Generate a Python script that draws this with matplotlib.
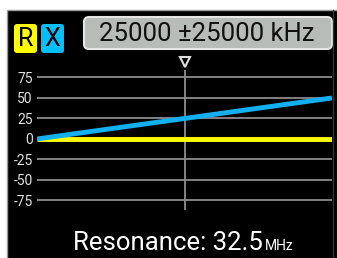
import matplotlib
matplotlib.use('Agg')
import matplotlib.pyplot as plt
from matplotlib.patches import FancyBboxPatch, Rectangle

plt.rcParams['font.family'] = ['Roboto', 'DejaVu Sans']

freq_khz = [0, 12500, 25000, 37500, 50000]
r_vals = [0, 0, 0, 0, 0]
x_vals = [0, 12.5, 25, 37.5, 50]
yticks = [75, 50, 25, 0, -25, -50, -75]
center_khz = 25000
span_khz = 25000
resonance_mhz = 32.5

W, H = 337, 258
fig = plt.figure(figsize=(W / 100, H / 100), dpi=100)
fig.patch.set_facecolor('white')

# background / decoration axes in pixel coordinates
bg = fig.add_axes([0, 0, 1, 1])
bg.set_xlim(0, W)
bg.set_ylim(H, 0)
bg.axis('off')
bg.add_patch(Rectangle((6.5, 10), W, H, facecolor='black', edgecolor='#9a9a9a', linewidth=1))
bg.plot([333, 333], [10, H], color='#333333', linewidth=1)

# R / X tags
bg.add_patch(FancyBboxPatch((14, 24), 23, 29, boxstyle='round,pad=0,rounding_size=3',
                            facecolor='#ffff00', edgecolor='none'))
bg.text(25.5, 39.5, 'R', fontsize=18, color='black', ha='center', va='center')
bg.add_patch(FancyBboxPatch((41, 24), 23, 29, boxstyle='round,pad=0,rounding_size=3',
                            facecolor='#00bfff', edgecolor='none'))
bg.text(52.5, 39.5, 'X', fontsize=18, color='black', ha='center', va='center')

# frequency box
bg.add_patch(FancyBboxPatch((84, 17), 248, 32, boxstyle='round,pad=0,rounding_size=5',
                            facecolor='#b8bcb8', edgecolor='#e6e6e6', linewidth=1.5))
bg.text(207, 34, f'{center_khz} \u00b1{span_khz} kHz', fontsize=18.5, color='#111111',
        ha='center', va='center')

# resonance readout
bg.text(263, 250, f'Resonance: {resonance_mhz}', fontsize=18.5, color='white',
        ha='right', va='baseline')
bg.text(265, 250, 'MHz', fontsize=10, color='white', ha='left', va='baseline')

# plot axes
x0, x1, y0, y1 = 37, 332, 70, 210
ax = fig.add_axes([x0 / W, 1 - y1 / H, (x1 - x0) / W, (y1 - y0) / H])
ax.set_facecolor('none')
ax.set_xlim(0, 2 * span_khz)
ax.set_ylim(-86.6, 84.1)
for s in ax.spines.values():
    s.set_visible(False)
ax.set_xticks([])
ax.set_yticks(yticks)
ax.set_yticklabels([str(t) for t in yticks], color='#e0e0e0', fontsize=10)
ax.tick_params(axis='y', length=0, pad=3)
for t in yticks:
    ax.axhline(t, color='#8c8c8c', linewidth=1.3, zorder=1)
ax.axvline(center_khz, color='#8c8c8c', linewidth=1.3, zorder=1)

ax.plot(freq_khz, r_vals, color='#ffff00', linewidth=3.5, solid_capstyle='butt', zorder=3)
ax.plot(freq_khz, x_vals, color='#12b0f0', linewidth=3.5, solid_capstyle='butt', zorder=4)

# marker triangle above the plot
ax.plot([center_khz], [94], marker='v', markersize=7, markerfacecolor='black',
        markeredgecolor='#dddddd', markeredgewidth=1.5, clip_on=False)

fig.savefig('out.png', dpi=100, facecolor='white')
